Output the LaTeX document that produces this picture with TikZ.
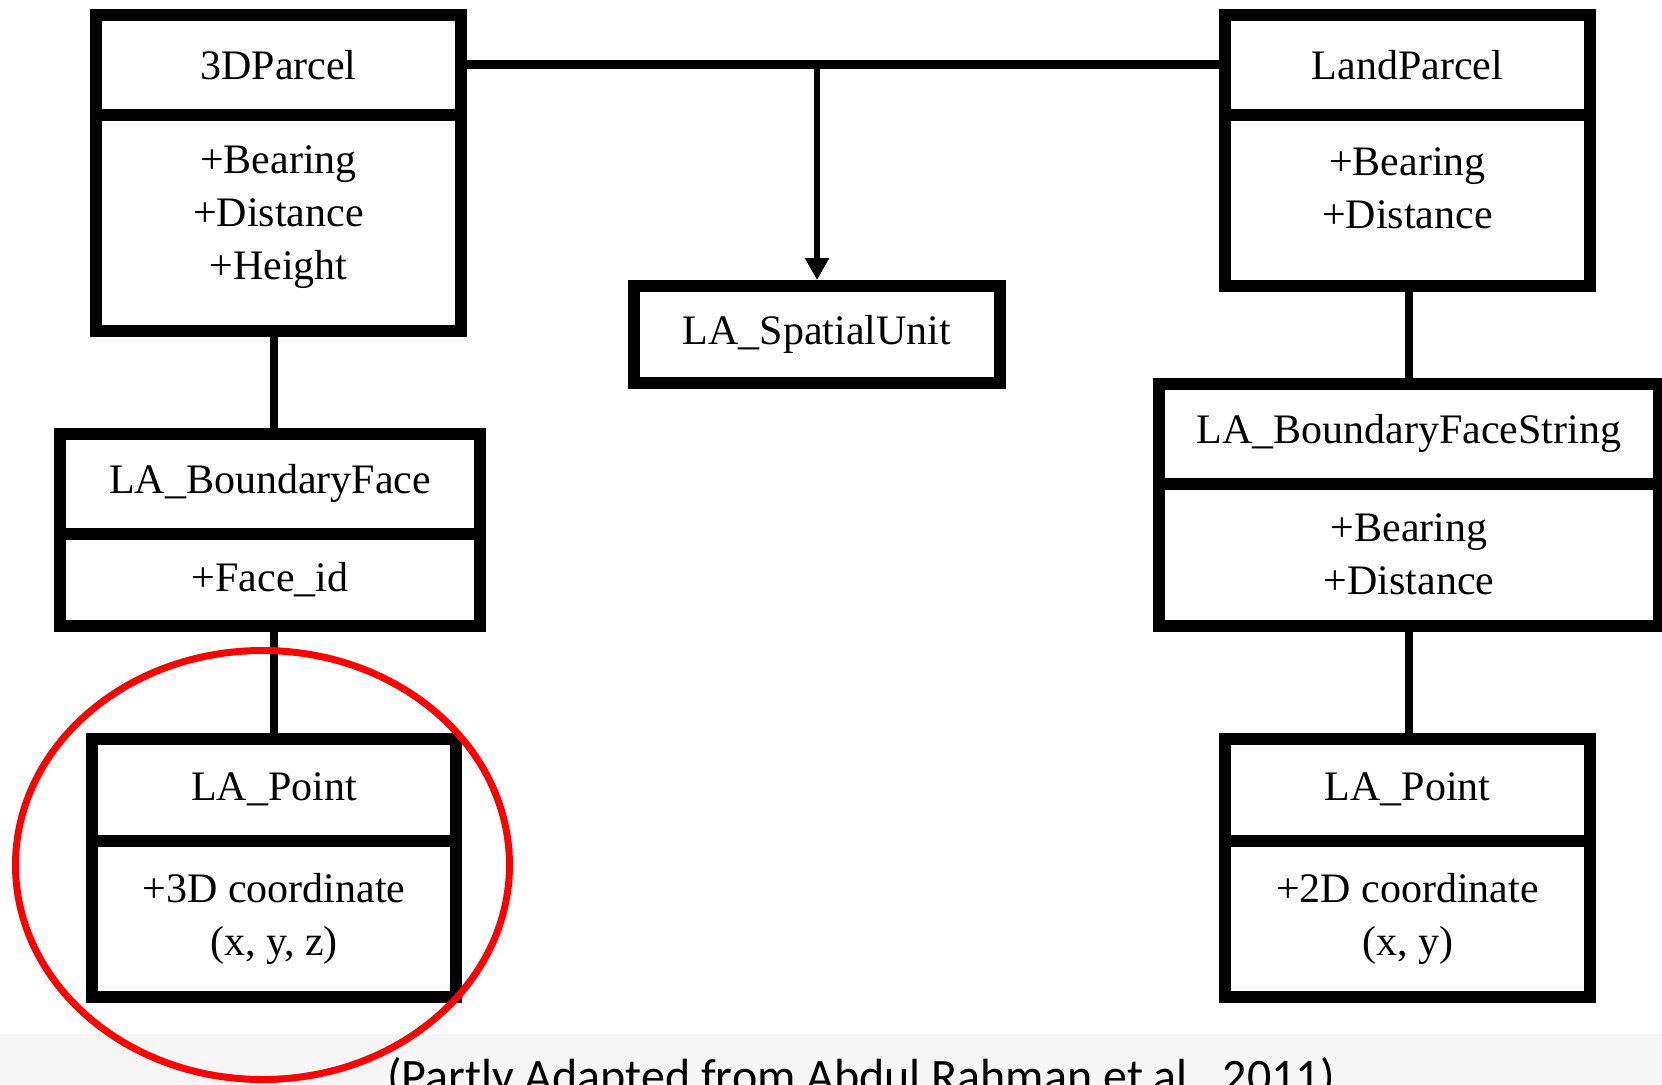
\documentclass[tikz,border=0pt]{standalone}
\usepackage{fontspec}
\setmainfont{Liberation Serif}
\newfontfamily\captionfont{Carlito}
\usetikzlibrary{arrows.meta, positioning}
\definecolor{MarkRed}{RGB}{255,0,0}
\definecolor{BandGray}{RGB}{246,246,246}

\begin{document}
\begin{tikzpicture}[x=0.5pt, y=-0.5pt,
    classbox/.style={draw, line width=6pt, outer sep=0pt, inner sep=0pt,
      minimum width=#1, align=center,
      font=\fontsize{21}{26.5}\selectfont},
    link/.style={line width=4pt},
    arrowlink/.style={line width=3pt, -{Triangle[width=11.5pt, length=11pt]}, shorten >=3pt}]
      % frame and lower band
      \fill[white] (0,0) rectangle (1662,1084);
      \useasboundingbox (0,0) rectangle (1662,1084);
      \fill[BandGray] (0,1034) rectangle (1662,1084);

      % left column
      \node[classbox=182.5pt, minimum height=49.75pt] (t3d) at (278.5,64.75) {3DParcel};
      \node[classbox=182.5pt, minimum height=108.25pt, text depth=10pt, below=0pt of t3d] (a3d)
        {+Bearing\\+Distance\\+Height};
      \node[classbox=210pt, minimum height=49.75pt] (tbface) at (270,483.75) {LA\_BoundaryFace};
      \node[classbox=210pt, minimum height=46.25pt, below=0pt of tbface] (abface) {+Face\_id};
      \node[classbox=182pt, minimum height=50.75pt] (tpointL) at (274,789.75) {LA\_Point};
      \node[classbox=182pt, minimum height=78.25pt, below=0pt of tpointL] (apointL)
        {+3D coordinate\\(x, y, z)};

      % middle
      \node[classbox=183pt, minimum height=48.5pt] (spatial) at (817,334.5) {LA\_SpatialUnit};

      % right column
      \node[classbox=182.5pt, minimum height=49.75pt] (tland) at (1407.5,64.75) {LandParcel};
      \node[classbox=182.5pt, minimum height=85.75pt, text depth=12pt, below=0pt of tland] (aland)
        {+Bearing\\+Distance};
      \node[classbox=250pt, minimum height=49.75pt] (tbfs) at (1409,433.75) {LA\_BoundaryFaceString};
      \node[classbox=250pt, minimum height=71.25pt, below=0pt of tbfs] (abfs)
        {+Bearing\\+Distance};
      \node[classbox=182.5pt, minimum height=50.75pt] (tpointR) at (1407.5,789.75) {LA\_Point};
      \node[classbox=182.5pt, minimum height=78.25pt, below=0pt of tpointR] (apointR)
        {+2D coordinate\\(x, y)};

      % connectors
      \draw[line width=4.5pt] (t3d.east) -- (tland.west);
      \coordinate (fork) at (spatial.north |- t3d.east);
      \draw[arrowlink] (fork) -- (spatial.north);
      \draw[link] (a3d.south -| tpointL.north) -- (tbface.north -| tpointL.north);
      \draw[link] (abface.south -| tpointL.north) -- (tpointL.north);
      \draw[link] (aland.south -| tbfs.north) -- (tbfs.north);
      \draw[link] (abfs.south) -- (abfs.south |- tpointR.north);

      % highlight
      \draw[MarkRed, line width=3.5pt] (262.5,865) ellipse [x radius=247, y radius=214.5];

      \node[anchor=base, inner sep=0pt, font=\captionfont\fontsize{24}{28}\selectfont] (source)
        at (861,1092) {(Partly Adapted from Abdul Rahman et al., 2011)};
    \end{tikzpicture}
\end{document}
